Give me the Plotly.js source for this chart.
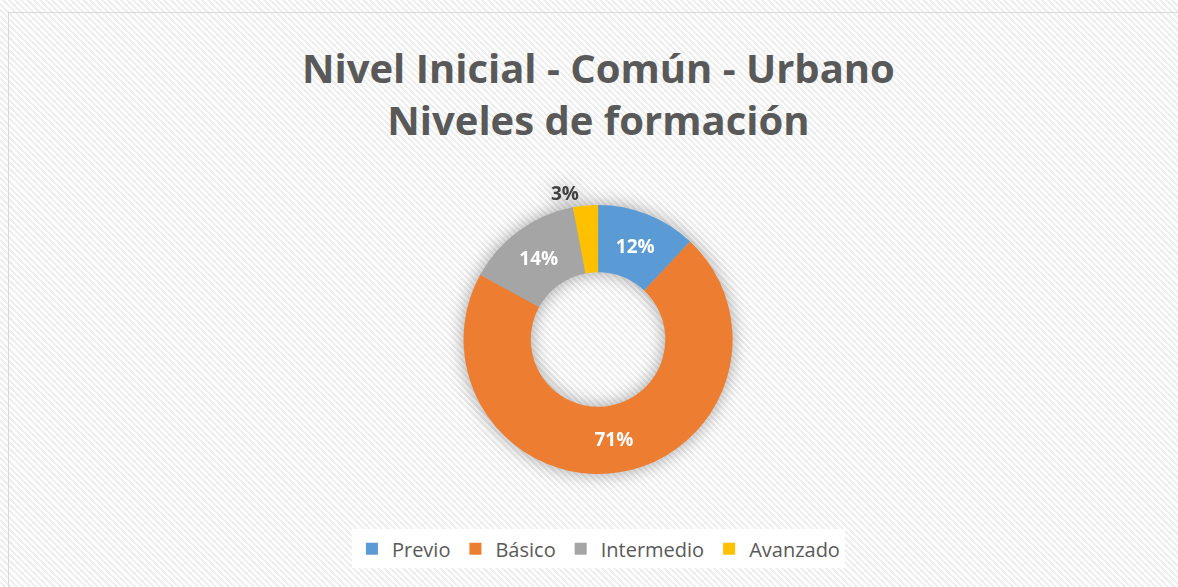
<!DOCTYPE html>
<html>
<head>
<meta charset="utf-8">
<script src="https://cdn.plot.ly/plotly-3.0.1.min.js"></script>
<style>
  html, body { margin: 0; padding: 0; width: 1178px; height: 587px; overflow: hidden;
    background: repeating-linear-gradient(45deg, #ffffff 0px, #ffffff 2.2px, #efefef 2.2px, #efefef 4.4px); }
  #frame { position: absolute; left: 8px; top: 12px; width: 1200px; height: 600px; border: 1.5px solid #d9d9d9; box-sizing: border-box; }
  #chart { position: absolute; left: 0; top: 0; width: 1178px; height: 587px; }
  #chart .pielayer { filter: drop-shadow(0px 0px 9px rgba(0,0,0,0.35)); }
</style>
</head>
<body>
<div id="frame"></div>
<div id="chart"></div>
<script>
const categories = ["Previo", "Básico", "Intermedio", "Avanzado"];
const values = [12, 71, 14, 3];
const colors = ["#5b9bd5", "#ed7d31", "#a5a5a5", "#ffc000"];
const labelsText = ["12%", "71%", "14%", "3%"];
const titleText = "Nivel Inicial - Común - Urbano<br>Niveles de formación";

const FONT = "Open Sans, Lato, sans-serif";

const trace = {
  type: "pie",
  labels: categories,
  values: values,
  sort: false,
  direction: "clockwise",
  rotation: 0,
  hole: 0.5,
  marker: { colors: colors, line: { width: 0 } },
  text: labelsText,
  textinfo: "text",
  textposition: ["inside", "inside", "inside", "outside"],
  insidetextorientation: "horizontal",
  insidetextfont: { family: FONT, size: 19, color: "#ffffff", weight: "bold" },
  outsidetextfont: { family: FONT, size: 19, color: "#404040", weight: "bold" },
  hoverinfo: "none",
  domain: { x: [0.3931, 0.6223], y: [0.1925, 0.6508] }
};

const layout = {
  width: 1178,
  height: 587,
  margin: { l: 0, r: 0, t: 0, b: 0 },
  paper_bgcolor: "rgba(0,0,0,0)",
  plot_bgcolor: "rgba(0,0,0,0)",
  showlegend: true,
  title: {
    text: titleText,
    font: { family: FONT, size: 40, color: "#595959", weight: "bold" },
    x: 0.508, xanchor: "center",
    y: 0.858, yanchor: "middle",
    yref: "paper"
  },
  legend: {
    orientation: "h",
    x: 0.508, xanchor: "center",
    y: 0.065, yanchor: "middle",
    bgcolor: "#ffffff",
    font: { family: FONT, size: 20, color: "#595959" },
    itemwidth: 30
  }
};

Plotly.newPlot("chart", [trace], layout, { displayModeBar: false, staticPlot: true });
</script>
</body>
</html>
